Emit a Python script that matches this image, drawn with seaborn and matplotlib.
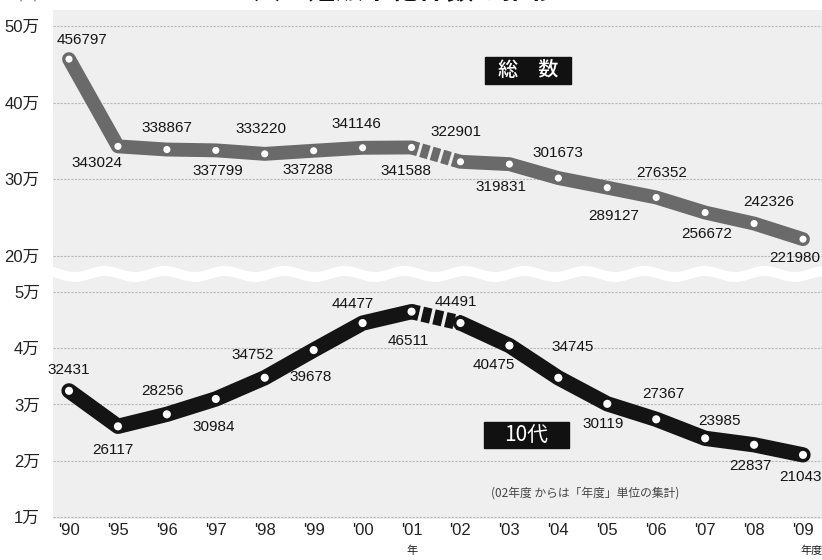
import numpy as np
import pandas as pd
import matplotlib
matplotlib.use("Agg")
import matplotlib.pyplot as plt
from matplotlib.patches import Rectangle, Polygon
import seaborn as sns

# ---- data -------------------------------------------------------------
years = ["'90", "'95", "'96", "'97", "'98", "'99", "'00", "'01",
         "'02", "'03", "'04", "'05", "'06", "'07", "'08", "'09"]
total = [456797, 343024, 338867, 337799, 333220, 337288, 341146, 341588,
         322901, 319831, 301673, 289127, 276352, 256672, 242326, 221980]
teens = [32431, 26117, 28256, 30984, 34752, 39678, 44477, 46511,
         44491, 40475, 34745, 30119, 27367, 23985, 22837, 21043]

top_ticks = [200000, 300000, 400000, 500000]
top_ticklabels = ["20万", "30万", "40万", "50万"]
bottom_ticks = [10000, 20000, 30000, 40000, 50000]
bottom_ticklabels = ["1万", "2万", "3万", "4万", "5万"]

title = "人工妊娠中絶件数の推移"
unit = "(件)"
note = "(02年度 からは「年度」単位の集計)"

# label offsets in pixels (dx, dy downward) relative to each point
top_offsets = [(13, -19), (-21, 17), (0, -22), (2, 21), (-4, -25), (-6, 19),
               (-6, -24), (-6, 24), (-5, -30), (-8, 23), (0, -25), (6, 28),
               (5, -24), (2, 21), (15, -22), (-8, 19)]
bottom_offsets = [(0, -21), (-5, 24), (-4, -23), (-2, 28), (-12, -23), (-3, 27),
                  (-10, -19), (-3, 29), (-5, -21), (-16, 19), (14, -31), (-4, 20),
                  (7, -25), (14, -17), (-4, 21), (-3, 22)]

# ---- style ------------------------------------------------------------
sns.set_theme(style="white")
plt.rcParams["font.family"] = ["Liberation Sans", "Noto Sans CJK JP"]

W, H = 822, 560
fig = plt.figure(figsize=(W / 100, H / 100), dpi=100)
fig.patch.set_facecolor("white")

left, right = 53, 822
ax_top = fig.add_axes([left / W, 1 - 274 / H, (right - left) / W, 264 / H])
ax_bot = fig.add_axes([left / W, 1 - 519 / H, (right - left) / W, 245 / H])

panel_bg = "#efefef"
grid_col = "#b8b8b8"

for ax, ticks, labels, ylim in [
    (ax_top, top_ticks, top_ticklabels, (176522, 520870)),
    (ax_bot, bottom_ticks, bottom_ticklabels, (9644, 53200)),
]:
    ax.set_facecolor(panel_bg)
    ax.set_xlim(-0.327, 15.388)
    ax.set_ylim(*ylim)
    ax.set_yticks(ticks)
    ax.set_yticklabels(labels, fontsize=12, color="#222222")
    ax.tick_params(axis="y", length=0, pad=9.5)
    ax.grid(axis="y", color=grid_col, linestyle=(0, (2, 1.2)), linewidth=0.8)
    ax.grid(axis="x", visible=False)
    for s in ax.spines.values():
        s.set_visible(False)
    ax.set_axisbelow(True)
    ax.set_xlabel("")
    ax.set_ylabel("")

ax_top.set_xticks([])
ax_bot.set_xticks(range(len(years)))
ax_bot.set_xticklabels(years, fontsize=12, color="#222222")
ax_bot.tick_params(axis="x", length=0, pad=3)


def draw_series(ax, values, color, lw, msize, offsets):
    df = pd.DataFrame({"x": np.arange(len(values)), "y": values})
    first, link, second = df.iloc[:8], df.iloc[7:9], df.iloc[8:]
    for part in (first, second):
        sns.lineplot(data=part, x="x", y="y", ax=ax, color=color, linewidth=lw,
                     estimator=None, sort=False, solid_joinstyle="round",
                     solid_capstyle="round", zorder=3)
    # counting-method change between '01 and '02: broken link
    sns.lineplot(data=link, x="x", y="y", ax=ax, color=color, linewidth=lw,
                 estimator=None, sort=False,
                 linestyle=(0.07, (0.57, 0.22)), dash_capstyle="butt", zorder=3)
    sns.scatterplot(data=df, x="x", y="y", ax=ax, color="white", s=msize,
                    edgecolor="none", linewidth=0, zorder=4, legend=False)
    for (x, y), (dx, dy) in zip(zip(df["x"], df["y"]), offsets):
        ax.annotate(f"{y}", xy=(x, y), xytext=(dx * 0.72, -dy * 0.72),
                    textcoords="offset points", ha="center", va="center",
                    fontsize=11, color="#151515", zorder=5)
    ax.set_xlabel("")
    ax.set_ylabel("")


draw_series(ax_top, total, "#6a6a6a", 10, 26, top_offsets)
draw_series(ax_bot, teens, "#141414", 11, 34, bottom_offsets)

# series name boxes
ax_top.add_patch(Rectangle((0.5618, 0.720), 0.1118, 0.103,
                           transform=ax_top.transAxes, color="#111111", zorder=6))
ax_top.text(0.6177, 0.7715, "総　数", transform=ax_top.transAxes, ha="center",
            va="center", fontsize=14.5, color="white", zorder=7,
            family=["Noto Sans CJK JP"], fontweight="medium")
ax_bot.add_patch(Rectangle((0.5605, 0.289), 0.1105, 0.106,
                           transform=ax_bot.transAxes, color="#111111", zorder=6))
ax_bot.text(0.6158, 0.342, "10代", transform=ax_bot.transAxes, ha="center",
            va="center", fontsize=15, color="white", zorder=7,
            family=["Noto Sans CJK JP"])

# note and x unit marks
ax_bot.text(0.692, 0.106, note, transform=ax_bot.transAxes, ha="center",
            va="center", fontsize=8.5, color="#444444",
            family=["Noto Sans CJK JP"])
xt = ax_bot.get_xaxis_transform()
ax_bot.text(7, -0.128, "年", transform=xt, ha="center", va="center",
            fontsize=8, color="#222222", family=["Noto Sans CJK JP"])
ax_bot.text(15.18, -0.128, "年度", transform=xt, ha="center", va="center",
            fontsize=8, color="#222222", family=["Noto Sans CJK JP"])

# wavy white break between the two panels
xs = np.linspace(left, right, 300)
wave = 3 * np.sin(2 * np.pi * xs / 60)
upper_edge = 269 + wave
lower_edge = 279 + wave
pts = np.concatenate([np.column_stack([xs, upper_edge]),
                      np.column_stack([xs[::-1], lower_edge[::-1]])])
pts_fig = np.column_stack([pts[:, 0] / W, 1 - pts[:, 1] / H])
fig.add_artist(Polygon(pts_fig, closed=True, transform=fig.transFigure,
                       facecolor="white", edgecolor="none", zorder=2))

# title and unit, running off the top edge of the figure
fig.text(405 / W, 1 + 2 / H, title, ha="center", va="baseline", fontsize=20,
         fontweight="bold", color="#111111", family=["Noto Sans CJK JP"])
fig.text(28 / W, 1 + 1 / H, unit, ha="center", va="baseline", fontsize=9,
         color="#333333", family=["Noto Sans CJK JP"])

fig.savefig("out.png", dpi=100)
